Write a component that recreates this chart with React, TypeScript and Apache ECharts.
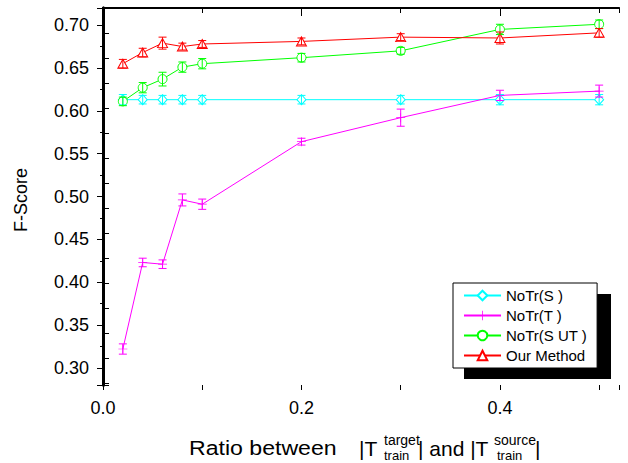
import React, { useEffect, useRef } from 'react';
import * as echarts from 'echarts';

const FONT = "'Liberation Sans', Arial, sans-serif";

const xValues = [0.02, 0.04, 0.06, 0.08, 0.1, 0.2, 0.3, 0.4, 0.5];

const noTrS = [0.613, 0.613, 0.613, 0.613, 0.613, 0.613, 0.613, 0.613, 0.613];
const noTrSErr = [0.006, 0.005, 0.005, 0.005, 0.005, 0.005, 0.005, 0.006, 0.006];

const noTrT = [0.322, 0.423, 0.421, 0.496, 0.491, 0.564, 0.592, 0.618, 0.623];
const noTrTErr = [0.006, 0.005, 0.005, 0.007, 0.006, 0.004, 0.01, 0.006, 0.007];

const noTrSUT = [0.611, 0.627, 0.637, 0.651, 0.655, 0.662, 0.67, 0.695, 0.701];
const noTrSUTErr = [0.005, 0.006, 0.008, 0.006, 0.006, 0.005, 0.004, 0.006, 0.005];

const ourMethod = [0.655, 0.668, 0.679, 0.675, 0.678, 0.681, 0.686, 0.685, 0.691];
const ourMethodErr = [0.005, 0.005, 0.007, 0.004, 0.004, 0.004, 0.004, 0.007, 0.005];

const seriesNames = ['NoTr(S )', 'NoTr(T )', 'NoTr(S UT )', 'Our Method'];
const seriesColors = ['#00ffff', '#ff00ff', '#00ff00', '#ff0000'];

const PLUS = 'path://M4.6,0H5.4V4.6H10V5.4H5.4V10H4.6V5.4H0V4.6H4.6Z';

function lineSeries(idx: number, vals: number[], symbol: string, size: any, filled: boolean) {
  const color = seriesColors[idx];
  return {
    type: 'line',
    name: seriesNames[idx],
    xAxisIndex: 0,
    yAxisIndex: 0,
    data: xValues.map((x, i) => [x, vals[i]]),
    symbol,
    symbolSize: size,
    showAllSymbol: true,
    lineStyle: { color, width: 1 },
    itemStyle: filled
      ? { color, borderColor: color, borderWidth: 0 }
      : { color: '#fff', borderColor: color, borderWidth: 1 },
    z: 3,
    silent: true,
  };
}

function errSeries(idx: number, vals: number[], errs: number[]) {
  const color = seriesColors[idx];
  return {
    type: 'custom',
    name: seriesNames[idx] + ' err',
    xAxisIndex: 0,
    yAxisIndex: 0,
    z: 4,
    silent: true,
    data: xValues.map((x, i) => [x, vals[i] - errs[i], vals[i] + errs[i]]),
    encode: { x: 0, y: [1, 2] },
    renderItem: (params: any, api: any) => {
      const x = api.value(0);
      const lo = api.coord([x, api.value(1)]);
      const hi = api.coord([x, api.value(2)]);
      const w = 4;
      const st = { stroke: color, lineWidth: 1, fill: 'none' };
      return {
        type: 'group',
        children: [
          { type: 'line', shape: { x1: lo[0], y1: lo[1], x2: hi[0], y2: hi[1] }, style: st },
          { type: 'line', shape: { x1: lo[0] - w, y1: lo[1], x2: lo[0] + w, y2: lo[1] }, style: st },
          { type: 'line', shape: { x1: hi[0] - w, y1: hi[1], x2: hi[0] + w, y2: hi[1] }, style: st },
        ],
      };
    },
  };
}

const isMult = (v: number, step: number) => Math.abs(v / step - Math.round(v / step)) < 1e-6;

export default function App() {
  const ref = useRef<HTMLDivElement>(null);
  useEffect(() => {
    const chart = echarts.init(ref.current!, null, { renderer: 'svg' });
    const mainText = { fill: '#000', font: `21px ${FONT}` };
    const smallText = { fill: '#000', font: `14px ${FONT}` };
    const subText = { fill: '#000', font: `13px ${FONT}` };
    const option: any = {
      animation: false,
      backgroundColor: '#fff',
      textStyle: { fontFamily: FONT },
      grid: { left: 103, right: 9, top: 8, bottom: 78, containLabel: false },
      xAxis: [
        {
          type: 'value', position: 'bottom', min: 0, max: 0.52, interval: 0.2,
          axisLine: { show: true, lineStyle: { color: '#000', width: 1.5 } },
          axisTick: { show: true, inside: false, length: 8, lineStyle: { color: '#000', width: 1 } },
          axisLabel: {
            show: true, margin: 14, fontSize: 18, color: '#000', fontFamily: FONT,
            showMaxLabel: false,
            formatter: (v: number) => (isMult(v, 0.2) ? v.toFixed(1) : ''),
          },
          splitLine: { show: false },
        },
        {
          type: 'value', position: 'bottom', min: 0, max: 0.52, interval: 0.1,
          axisLine: { show: false },
          axisTick: { show: true, inside: false, length: 5, lineStyle: { color: '#000', width: 1 } },
          axisLabel: { show: false },
          splitLine: { show: false },
        },
        {
          type: 'value', position: 'top', min: 0, max: 0.52, interval: 0.1,
          axisLine: { show: true, lineStyle: { color: '#000', width: 2 } },
          axisTick: { show: true, inside: true, length: 5, lineStyle: { color: '#000', width: 1 } },
          axisLabel: { show: false },
          splitLine: { show: false },
        },
      ],
      yAxis: [
        {
          type: 'value', position: 'left', min: 0.28, max: 0.72, splitNumber: 9,
          axisLine: { show: true, lineStyle: { color: '#000', width: 3 } },
          axisTick: { show: true, inside: false, length: 6, lineStyle: { color: '#000', width: 1 } },
          minorTick: { show: true, splitNumber: 2, length: 3, lineStyle: { color: '#000', width: 1 } },
          axisLabel: {
            show: true, margin: 14, fontSize: 18, color: '#000', fontFamily: FONT,
            formatter: (v: number) => (isMult(v, 0.05) ? v.toFixed(2) : ''),
          },
          splitLine: { show: false },
        },
        {
          type: 'value', position: 'right', min: 0, max: 15.08, interval: 1, inverse: true,
          axisLine: { show: true, lineStyle: { color: '#000', width: 3 } },
          axisTick: { show: true, inside: false, length: 6, lineStyle: { color: '#000', width: 1 } },
          axisLabel: { show: false },
          splitLine: { show: false },
        },
      ],
      legend: {
        data: seriesNames,
        orient: 'vertical',
        left: 453,
        top: 283,
        padding: [5, 10, 5, 10],
        itemGap: 5,
        itemWidth: 37,
        itemHeight: 12,
        backgroundColor: '#fff',
        borderColor: '#000',
        borderWidth: 1,
        borderRadius: 0,
        selectedMode: false,
        textStyle: { fontSize: 15, color: '#000', fontFamily: FONT },
        z: 10,
      },
      graphic: [
        { type: 'rect', z: 3, shape: { x: 464, y: 294, width: 147, height: 85 }, style: { fill: '#000' } },
        {
          type: 'text', x: 21, y: 200, rotation: Math.PI / 2,
          style: { text: 'F-Score', fill: '#000', font: `18px ${FONT}`, textAlign: 'center', textVerticalAlign: 'middle' },
        },
        { type: 'text', x: 189, y: 448, scaleX: 1.1, style: { ...mainText, text: 'Ratio between', textVerticalAlign: 'middle' } },
        { type: 'text', x: 359, y: 448, style: { ...mainText, text: '|T', textVerticalAlign: 'middle' } },
        { type: 'text', x: 384, y: 440, style: { ...smallText, text: 'target', textVerticalAlign: 'middle' } },
        { type: 'text', x: 384, y: 455, style: { ...subText, text: 'train', textVerticalAlign: 'middle' } },
        { type: 'text', x: 418, y: 448, style: { ...mainText, text: '| and |T', textVerticalAlign: 'middle' } },
        { type: 'text', x: 494, y: 440, style: { ...smallText, text: 'source', textVerticalAlign: 'middle' } },
        { type: 'text', x: 497, y: 455, style: { ...subText, text: 'train', textVerticalAlign: 'middle' } },
        { type: 'text', x: 535, y: 448, style: { ...mainText, text: '|', textVerticalAlign: 'middle' } },
      ],
      series: [
        lineSeries(0, noTrS, 'diamond', [9, 10], false),
        lineSeries(1, noTrT, PLUS, 9, true),
        lineSeries(2, noTrSUT, 'circle', 9, false),
        lineSeries(3, ourMethod, 'triangle', [10, 9], false),
        errSeries(0, noTrS, noTrSErr),
        errSeries(1, noTrT, noTrTErr),
        errSeries(2, noTrSUT, noTrSUTErr),
        errSeries(3, ourMethod, ourMethodErr),
      ],
    };
    chart.setOption(option);
    return () => chart.dispose();
  }, []);
  return (
    <div
      ref={ref}
      style={{ position: 'absolute', left: 0, top: 0, width: 628, height: 463, background: '#fff' }}
    />
  );
}
